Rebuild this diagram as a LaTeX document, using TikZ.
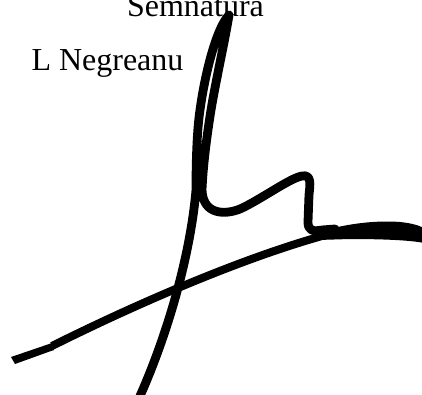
\documentclass[tikz,border=0pt]{standalone}
\usepackage{fontspec}
\setmainfont{Liberation Serif}

\tikzset{every picture/.style={line width=0.75pt}}
\tikzset{pen/.style={line width=6.6pt, line cap=round, line join=round}}

\begin{document}
\begin{tikzpicture}[x=0.75pt,y=0.75pt,yscale=-1,xscale=1]
        \useasboundingbox (0,0) rectangle (422,394);
        \clip (0,0) rectangle (422,394);

        %Shape: Curve [id:signature main stroke]
        \draw [pen] (140,396) .. controls (165,340) and (190,260) .. (196,190) .. controls (196,160) and (197,130) .. (200,110) .. controls (204,80) and (215,30) .. (229,15) .. controls (225,40) and (216,80) .. (211,110) .. controls (207,135) and (203,165) .. (202,190) .. controls (203,215) and (225,215) .. (240,209) .. controls (260,200) and (290,178) .. (302,176) .. controls (312,174) and (310,185) .. (309,195) -- (308,222) .. controls (308,230) and (312,232) .. (322,230) -- (335,229) ;
        %Shape: Curve [id:signature cross stroke]
        \draw [pen, line width=6pt, line cap=butt] (52,346) .. controls (120,312) and (230,262) .. (322,236) ;
        %Shape: Polygon [id:cross stroke end]
        \fill (11,357) -- (52,343) -- (54,350) -- (51,351) -- (15,364) -- cycle ;
        %Shape: Polygon Curved [id:tail]
        \fill (318,232) .. controls (345,224) and (375,220) .. (400,222) .. controls (410,223) and (418,225) .. (424,228) -- (424,243) .. controls (410,240) and (380,239) .. (350,239) -- (318,240) -- cycle ;

        % Text Node
        \node (semn) [anchor=base][inner sep=0pt][font=\fontsize{24}{28}\selectfont] at (195.5,16) {Semnatura};
        % Text Node
        \node (name) [anchor=base west][inner sep=0pt][font=\fontsize{24}{28}\selectfont] at (31,70.5) {L Negreanu};
    \end{tikzpicture}
\end{document}
